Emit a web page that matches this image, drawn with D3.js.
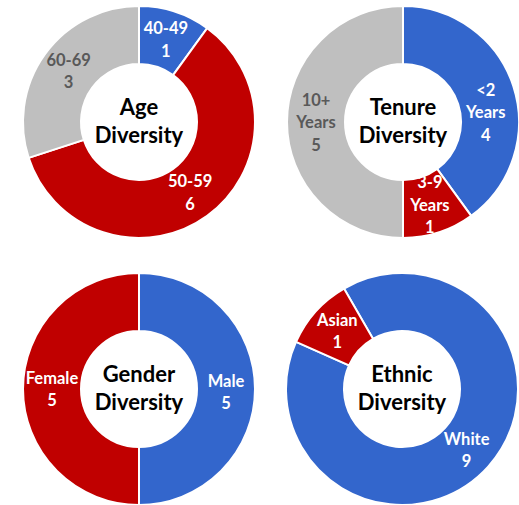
<!DOCTYPE html>
<html>
<head>
<meta charset="utf-8">
<script src="https://cdn.jsdelivr.net/npm/d3@7"></script>
<style>
  html, body { margin: 0; padding: 0; background: #fff; }
  svg { display: block; }
</style>
</head>
<body>
<div id="chart"></div>
<script>
// data
const ageCategories = ["40-49", "50-59", "60-69"];
const ageValues = [1, 6, 3];
const tenureCategories = ["<2 Years", "3-9 Years", "10+ Years"];
const tenureValues = [4, 1, 5];
const genderCategories = ["Male", "Female"];
const genderValues = [5, 5];
const ethnicCategories = ["White", "Asian"];
const ethnicValues = [9, 1];

const sliceColours = ["#3366cc", "#c00000", "#bfbfbf"];
const labelColours = ["#ffffff", "#ffffff", "#595959"];

const width = 519, height = 505;
const outerR = 116, innerR = 58;

const charts = [
    {title: "Age Diversity", cats: ageCategories, vals: ageValues, cx: 139, cy: 122, start: 0},
    {title: "Tenure Diversity", cats: tenureCategories, vals: tenureValues, cx: 403, cy: 122, start: 0},
    {title: "Gender Diversity", cats: genderCategories, vals: genderValues, cx: 139, cy: 389, start: 0},
    {title: "Ethnic Diversity", cats: ethnicCategories, vals: ethnicValues, cx: 402, cy: 389, start: -30}
];

// the "<2 Years" label was pushed down a bit in the original
const labelNudge = {"<2 Years": 17, "Male": 3, "White": 3};

const svg = d3.select("#chart").append("svg")
    .attr("width", width)
    .attr("height", height);

const arc = d3.arc().innerRadius(innerR).outerRadius(outerR);

charts.forEach(c => {
    const data = c.cats.map((cat, i) => ({cat: cat, value: c.vals[i], i: i}));
    const a0 = c.start * Math.PI / 180;
    const pie = d3.pie().sort(null).value(d => d.value)
        .startAngle(a0).endAngle(a0 + 2 * Math.PI);
    const arcs = pie(data);

    const g = svg.append("g")
        .attr("transform", `translate(${c.cx},${c.cy})`);

    g.selectAll("path")
        .data(arcs)
        .join("path")
        .attr("d", arc)
        .attr("fill", d => sliceColours[d.data.i])
        .attr("stroke", "#fff")
        .attr("stroke-width", 2);

    // slice labels: category (split on spaces) then value
    const lineH = 22.5;
    g.selectAll("text.lbl")
        .data(arcs)
        .join("text")
        .attr("class", "lbl")
        .attr("transform", d => {
            const [x, y] = arc.centroid(d);
            return `translate(${x},${y + (labelNudge[d.data.cat] || 0)})`;
        })
        .attr("text-anchor", "middle")
        .style("font-family", "Lato, 'Open Sans', sans-serif")
        .style("font-weight", "bold")
        .style("font-size", "16.5px")
        .attr("fill", d => labelColours[d.data.i])
        .each(function(d) {
            const lines = d.data.cat.split(" ").concat([String(d.data.value)]);
            const t = d3.select(this);
            lines.forEach((s, k) => {
                t.append("tspan")
                    .attr("x", 0)
                    .attr("y", (k - (lines.length - 1) / 2) * lineH)
                    .attr("dominant-baseline", "central")
                    .text(s);
            });
        });

    // centre title
    const words = c.title.split(" ");
    const title = g.append("text")
        .attr("text-anchor", "middle")
        .style("font-family", "Lato, 'Open Sans', sans-serif")
        .style("font-weight", "bold")
        .style("font-size", "22px")
        .attr("fill", "#000");
    words.forEach((w, k) => {
        title.append("tspan")
            .attr("x", 0)
            .attr("y", (k - (words.length - 1) / 2) * 28 - 2)
            .attr("dominant-baseline", "central")
            .text(w);
    });
});
</script>
</body>
</html>
